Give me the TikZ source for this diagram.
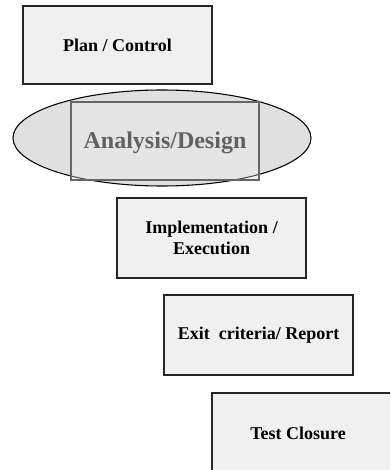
\documentclass[tikz,border=0pt]{standalone}
\usepackage{fontspec}
\setmainfont{Liberation Serif}
\usetikzlibrary{shapes.geometric}
\begin{document}
\begin{tikzpicture}[x=0.75pt,y=-0.75pt,
  stagebox/.style={draw=black!85, line width=0.8pt, fill=black!6, inner sep=0pt, font=\bfseries\fontsize{13.5}{16}\selectfont, align=center},
  oval/.style={draw=black, line width=0.8pt, fill=black!14, ellipse, inner sep=0pt}]
\useasboundingbox (0,0) rectangle (390,470);
\begin{scope}
\clip (0,0) rectangle (390,470);
\node[stagebox, minimum width=189*0.75pt, minimum height=78*0.75pt] (plan) at (117.5,45) {Plan / Control};
\node[draw=black!60, line width=0.9pt, fill=black!6, minimum width=188*0.75pt, minimum height=78*0.75pt, inner sep=0pt] (anal) at (165,141) {};
\node[oval, fill opacity=0.85, minimum width=298*0.75pt, minimum height=96*0.75pt] (ov) at (162,138) {};
\node[draw=black!60, line width=0.9pt, fill=black!3, fill opacity=0.3, minimum width=188*0.75pt, minimum height=78*0.75pt, inner sep=0pt] at (anal.center) {};
\node[text=black!62, font=\bfseries\fontsize{18}{21}\selectfont] (atext) at (165,143) {Analysis/Design};
\node[stagebox, minimum width=189*0.75pt, minimum height=80*0.75pt] (impl) at (211.5,238) {Implementation /\\Execution};
\node[stagebox, minimum width=189*0.75pt, minimum height=80*0.75pt] (exit) at (258.5,335) {Exit\ \ criteria/ Report};
\node[stagebox, minimum width=190*0.75pt, minimum height=85*0.75pt] (close) at (307,435.5) {};
\node[font=\bfseries\fontsize{13.5}{16}\selectfont] (ctext) at (298,433) {Test Closure};
\end{scope}
\end{tikzpicture}
\end{document}
